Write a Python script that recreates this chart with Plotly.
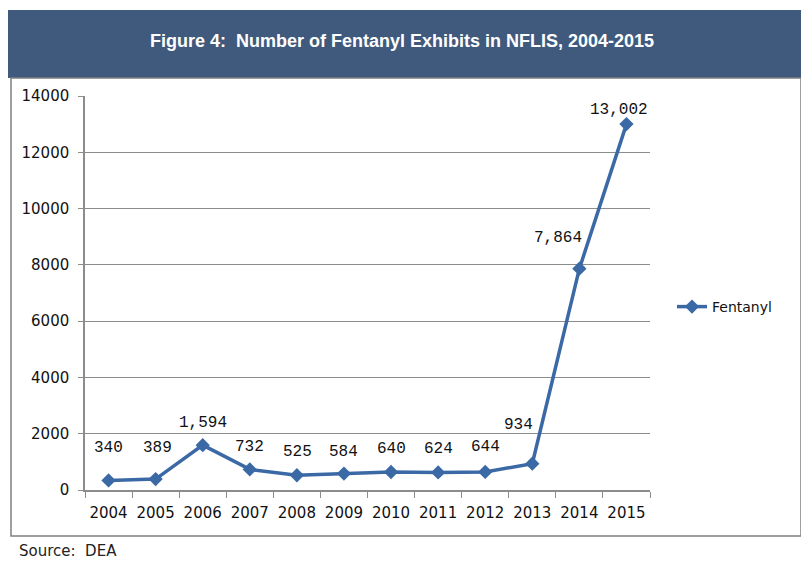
import plotly.graph_objects as go

# --- Data ---
years = ["2004", "2005", "2006", "2007", "2008", "2009",
         "2010", "2011", "2012", "2013", "2014", "2015"]
exhibits = [340, 389, 1594, 732, 525, 584, 640, 624, 644, 934, 7864, 13002]
y_ticks = [0, 2000, 4000, 6000, 8000, 10000, 12000, 14000]

# label nudges in px (dx, dy up), Excel placed these by hand
label_nudge = [(0, 32), (2, 31), (0, 22), (0, 22), (1, 23), (0, 22),
               (0, 23), (0, 23), (0, 25), (-14, 39), (-21, 31), (-7, 14)]

line_color = "#3A69A6"
grid_color = "#8C8C8C"

# the page body has an 8px margin, so work in screen px and shift
OFF = 8
W, H = 809 - OFF, 567 - OFF
# plot area in screen px: x 85..650, y 96..490
L, R, T, B = 85 - OFF, 650 - OFF, 96 - OFF, 490 - OFF


def px(x):
    return (x - OFF - L) / (R - L)


def py(y):
    return (B - (y - OFF)) / (B - T)


fig = go.Figure()
fig.add_trace(go.Scatter(
    x=years,
    y=exhibits,
    mode="lines+markers",
    name="Fentanyl",
    line=dict(color=line_color, width=3.5),
    marker=dict(symbol="diamond", size=11, color=line_color),
))

# data labels (category index on x so the shift is exact)
for i, (v, (dx, dy)) in enumerate(zip(exhibits, label_nudge)):
    fig.add_annotation(
        x=i, y=v, xref="x", yref="y", text=f"{v:,}", showarrow=False,
        xshift=dx, yshift=dy,
        font=dict(family="Liberation Mono", size=16, color="#111111"),
    )

# banner + frame
fig.add_shape(type="rect", xref="paper", yref="paper",
              x0=px(8), x1=px(804), y0=py(78), y1=py(10),
              fillcolor="#3F5A7C", line=dict(color="#3F5A7C", width=0), layer="below")
fig.add_shape(type="rect", xref="paper", yref="paper",
              x0=px(11), x1=px(801), y0=py(536), y1=py(78),
              fillcolor="rgba(0,0,0,0)", line=dict(color="#808080", width=1.5))

fig.add_annotation(
    xref="paper", yref="paper", x=px(402), y=py(41), yanchor="middle",
    text="<b>Figure 4:  Number of Fentanyl Exhibits in NFLIS, 2004-2015</b>",
    showarrow=False,
    font=dict(family="Liberation Sans Narrow, Liberation Sans", size=18, color="white"),
)
fig.add_annotation(
    xref="paper", yref="paper", x=px(17), y=py(551), xanchor="left", yanchor="middle",
    text="Source:  DEA", showarrow=False,
    font=dict(family="DejaVu Sans", size=15, color="#222222"),
)

fig.update_layout(
    width=W, height=H,
    margin=dict(l=L, r=W - R, t=T, b=H - B, autoexpand=False),
    paper_bgcolor="white",
    plot_bgcolor="white",
    font=dict(family="DejaVu Sans", size=15, color="#111111"),
    showlegend=True,
    legend=dict(x=px(672), y=py(307), xanchor="left", yanchor="middle",
                font=dict(size=14), bgcolor="rgba(0,0,0,0)"),
)
fig.update_xaxes(
    type="category", range=[-0.5, 11.5], tickangle=0,
    showline=True, linecolor=grid_color, linewidth=1.5,
    ticks="outside", tickson="boundaries", ticklen=6, tickcolor=grid_color,
    showgrid=False, ticklabelstandoff=8,
)
fig.update_yaxes(
    range=[0, 14000], tickvals=y_ticks, tickformat="d",
    showline=True, linecolor=grid_color, linewidth=1.5,
    ticks="outside", ticklen=5, tickcolor=grid_color,
    showgrid=True, gridcolor=grid_color, gridwidth=1,
    zeroline=False, ticklabelstandoff=6,
)

fig.write_html("out.html")
